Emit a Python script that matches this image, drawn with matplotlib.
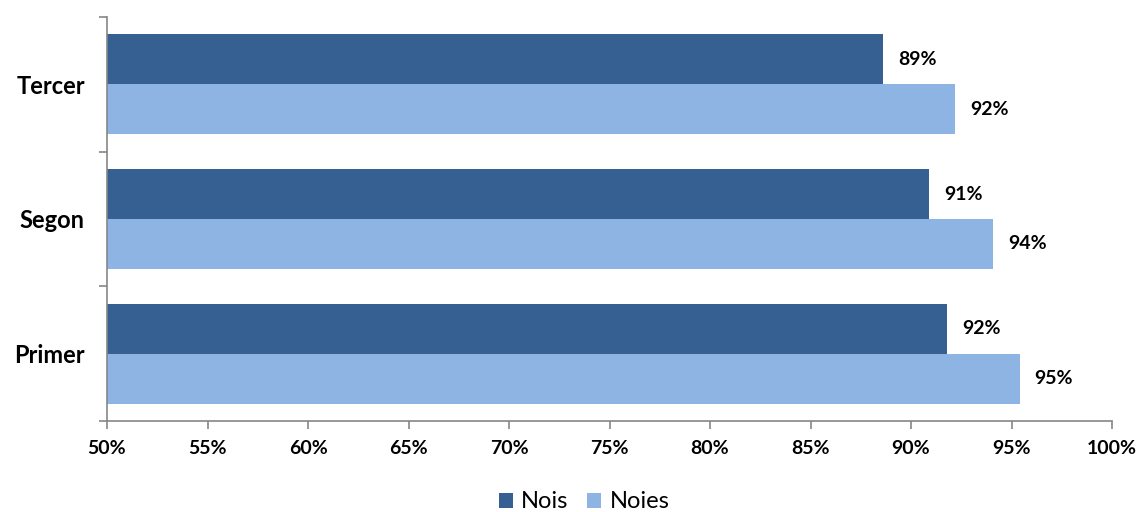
import matplotlib
matplotlib.use("Agg")
import matplotlib.pyplot as plt
import numpy as np

categories = ["Primer", "Segon", "Tercer"]
nois = [91.8, 90.9, 88.6]
noies = [95.4, 94.1, 92.2]
nois_labels = ["92%", "91%", "89%"]
noies_labels = ["95%", "94%", "92%"]
xticks = [50, 55, 60, 65, 70, 75, 80, 85, 90, 95, 100]

plt.rcParams['font.family'] = ['Lato', 'DejaVu Sans']

dark = "#376092"
light = "#8EB4E3"
grey = "#868686"

fig = plt.figure(figsize=(11.4, 5.12), dpi=100)
ax = fig.add_axes([107/1140, 1-421/512, (1112-107)/1140, (421-17)/512])

y = np.arange(len(categories))
h = 0.371
ax.barh(y + h/2, [v - 50 for v in nois], height=h, left=50, color=dark, label="Nois")
ax.barh(y - h/2, [v - 50 for v in noies], height=h, left=50, color=light, label="Noies")

for yi, v, lab in zip(y + h/2, nois, nois_labels):
    ax.text(v + 0.75, yi, lab, va='center', ha='left', fontsize=14, fontweight='bold', color='black')
for yi, v, lab in zip(y - h/2, noies, noies_labels):
    ax.text(v + 0.75, yi, lab, va='center', ha='left', fontsize=14, fontweight='bold', color='black')

ax.set_xlim(50, 100)
ax.set_ylim(-0.5, 2.5)
ax.set_xticks(xticks)
ax.set_xticklabels([f"{t}%" for t in xticks], fontsize=14, fontweight='bold')
ax.set_yticks([-0.5, 0.5, 1.5, 2.5])
ax.set_yticklabels([])
ax.set_yticks(y, minor=True)
ax.set_yticklabels(categories, minor=True, fontsize=17, fontweight='bold')
ax.tick_params(axis='y', which='minor', length=0, pad=16)
ax.tick_params(axis='y', which='major', length=6, color=grey, width=1.2)
ax.tick_params(axis='x', length=6, color=grey, width=1.2, pad=8)

for s in ['top', 'right']:
    ax.spines[s].set_visible(False)
for s in ['left', 'bottom']:
    ax.spines[s].set_color(grey)
    ax.spines[s].set_linewidth(1.2)

leg = fig.legend(loc='center', bbox_to_anchor=(584/1140, 1-502/512), ncol=2, frameon=False,
                 fontsize=17, handlelength=0.6, handleheight=0.6, handletextpad=0.35, columnspacing=0.8)

fig.savefig("out.png", dpi=100)
